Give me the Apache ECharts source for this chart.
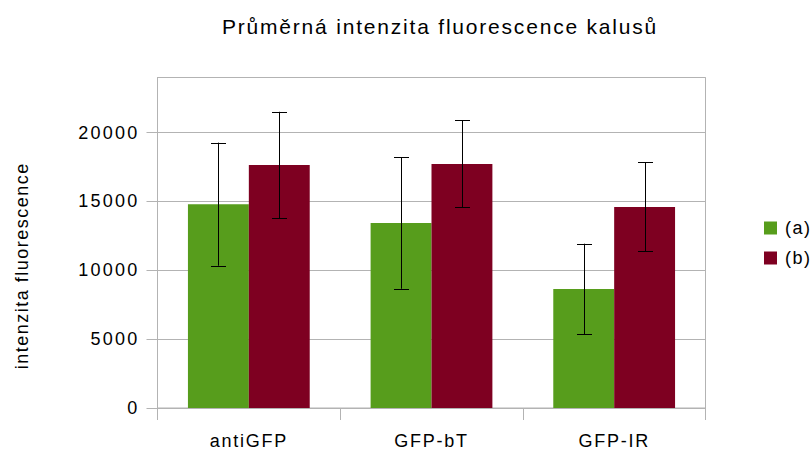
<!DOCTYPE html>
<html>
<head>
<meta charset="utf-8">
<script src="https://cdn.jsdelivr.net/npm/echarts@6/dist/echarts.min.js"></script>
<style>
html,body{margin:0;padding:0;background:#fff}
#c{width:810px;height:450px}
</style>
</head>
<body>
<div id="c"></div>
<script>
const categories = ['antiGFP', 'GFP-bT', 'GFP-IR'];
const seriesA = [14800, 13430, 8640];
const errA = [4470, 4770, 3290];
const seriesB = [17650, 17720, 14600];
const errB = [3860, 3160, 3230];
const yTicks = [0, 5000, 10000, 15000, 20000];
const titleText = 'Průměrná intenzita fluorescence kalusů';
const yName = 'intenzita fluorescence';
const legendNames = ['(a)', '(b)'];

const FONT = 'Liberation Sans';
const chart = echarts.init(document.getElementById('c'), null, {renderer: 'svg'});

function errData(vals, errs) {
  return vals.map((v, i) => [i, v - errs[i], v + errs[i]]);
}
function errSeries(name, vals, errs, side) {
  return {
    type: 'custom',
    name: name + '_err',
    z: 10,
    silent: true,
    data: errData(vals, errs),
    encode: {x: 0, y: [1, 2]},
    renderItem: function (params, api) {
      const band = api.size([1, 0])[0];
      const off = side * band / 6;
      const lo = api.coord([api.value(0), api.value(1)]);
      const hi = api.coord([api.value(0), api.value(2)]);
      const x = Math.round(lo[0] + off) + 0.5;
      const cap = 7.5;
      const st = {stroke: '#000', lineWidth: 1};
      return {
        type: 'group',
        children: [
          {type: 'line', shape: {x1: x, y1: hi[1], x2: x, y2: lo[1]}, style: st},
          {type: 'line', shape: {x1: x - cap, y1: Math.round(hi[1]) + 0.5, x2: x + cap, y2: Math.round(hi[1]) + 0.5}, style: st},
          {type: 'line', shape: {x1: x - cap, y1: Math.round(lo[1]) + 0.5, x2: x + cap, y2: Math.round(lo[1]) + 0.5}, style: st}
        ]
      };
    }
  };
}

chart.setOption({
  animation: false,
  backgroundColor: '#fff',
  textStyle: {fontFamily: FONT},
  title: {
    text: titleText,
    left: 435, top: 11, textAlign: 'center',
    textStyle: {fontFamily: FONT, fontSize: 21, fontWeight: 'normal', color: '#000'}
  },
  legend: {
    orient: 'vertical',
    left: 759, top: 214,
    itemWidth: 13, itemHeight: 13, itemGap: 12,
    icon: 'rect',
    data: legendNames,
    textStyle: {fontFamily: FONT, fontSize: 18, color: '#000', padding: [0, 0, 0, 3]}
  },
  grid: {
    left: 157.5, right: 104.5, top: 77.5, bottom: 42,
    show: true, borderColor: '#b3b3b3', borderWidth: 1, containLabel: false
  },
  xAxis: {
    type: 'category',
    data: categories,
    axisLine: {lineStyle: {color: '#b3b3b3'}},
    axisTick: {show: true, length: 12, lineStyle: {color: '#b3b3b3'}},
    axisLabel: {fontFamily: FONT, fontSize: 18, color: '#000', margin: 24}
  },
  yAxis: {
    type: 'value',
    min: 0, max: 24000, interval: 5000,
    name: yName,
    nameLocation: 'middle',
    nameGap: 127,
    nameTextStyle: {fontFamily: FONT, fontSize: 18, color: '#000', padding: [0, 46, 0, 0]},
    axisLine: {show: true, lineStyle: {color: '#b3b3b3'}},
    axisTick: {show: true, length: 11, lineStyle: {color: '#b3b3b3'}},
    axisLabel: {
      fontFamily: FONT, fontSize: 18, color: '#000', margin: 18, showMaxLabel: false,
      formatter: function (v) { return yTicks.indexOf(v) >= 0 ? String(v) : ''; }
    },
    splitLine: {lineStyle: {color: '#b3b3b3'}}
  },
  series: [
    {name: '(a)', type: 'bar', data: seriesA, barGap: '0%', barCategoryGap: '33.33%', itemStyle: {color: '#579d1c'}},
    {name: '(b)', type: 'bar', data: seriesB, barGap: '0%', barCategoryGap: '33.33%', itemStyle: {color: '#7e0021'}},
    errSeries('(a)', seriesA, errA, -1),
    errSeries('(b)', seriesB, errB, 1)
  ]
});

// letter spacing to match the reference's wider text rendering
document.querySelectorAll('#c svg text').forEach(function (el) {
  const s = el.textContent;
  let ls = null;
  if (s === titleText) ls = '1.8px';
  else if (s === yName) ls = '1.5px';
  else if (yTicks.map(String).indexOf(s) >= 0) ls = '2.25px';
  else if (categories.indexOf(s) >= 0) ls = '1.75px';
  else if (legendNames.indexOf(s) >= 0) ls = '1.5px';
  if (ls) el.style.letterSpacing = ls;
});
</script>
</body>
</html>
